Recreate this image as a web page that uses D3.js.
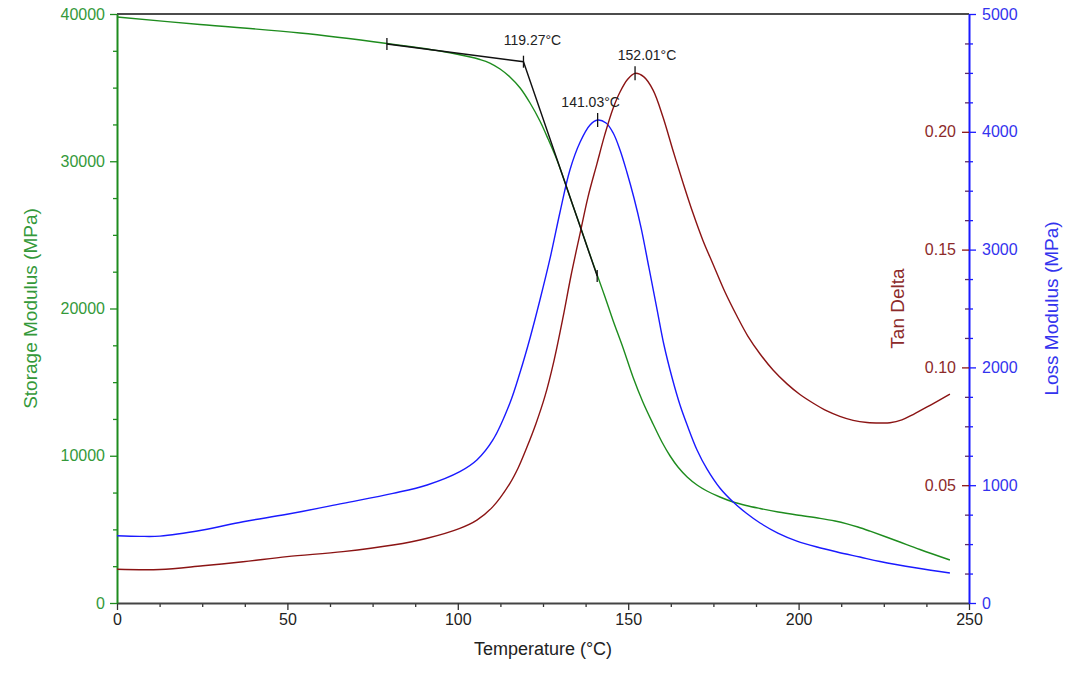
<!DOCTYPE html>
<html>
<head>
<meta charset="utf-8">
<script src="https://cdn.jsdelivr.net/npm/d3@7"></script>
<style>
  html, body { margin: 0; padding: 0; background: #fff; }
  svg { display: block; font-family: "Liberation Sans", Arial, sans-serif; }
</style>
</head>
<body>
<svg id="chart" width="1080" height="689"></svg>
<script>
// ---------------- DATA ----------------
const xTicks = [0, 50, 100, 150, 200, 250];
const storageTicks = [0, 10000, 20000, 30000, 40000];
const lossTicks = [0, 1000, 2000, 3000, 4000, 5000];
const tanTicks = [0.05, 0.10, 0.15, 0.20];
const tanTickLabels = ["0.05", "0.10", "0.15", "0.20"];

// Storage modulus (MPa) vs temperature (°C)
const storageTemp = [0, 24.35, 53.7, 79.2, 94.8, 103.0, 106.5, 109.4, 112.4, 115.3, 118.3, 121.2, 124.1, 126.5, 129.1, 131.5, 133.5, 135.9, 138.2, 140.8, 143.2, 145.5, 148.5, 151.4, 154.3, 157.3, 159.9, 162.3, 164.6, 167.3, 170.2, 173.1, 176.9, 180.8, 184.6, 188.7, 194.0, 199.5, 206.3, 210.7, 214.2, 217.4, 221.0, 228.9, 235.6, 244.4];
const storageValues = [39795, 39286, 38709, 37996, 37486, 37113, 36909, 36671, 36264, 35721, 34974, 33955, 32733, 31510, 30085, 28522, 27164, 25602, 24040, 22342, 20780, 19219, 17317, 15348, 13650, 12156, 10934, 9983, 9236, 8557, 8013, 7606, 7198, 6859, 6621, 6417, 6180, 5976, 5750, 5569, 5378, 5161, 4876, 4210, 3633, 2920];

// Loss modulus (MPa)
const lossTemp = [0, 6.7, 12.6, 25.2, 37.0, 49.9, 66.3, 81.0, 91.0, 100.6, 105.6, 110.3, 115.3, 118.3, 121.2, 124.1, 127.1, 130.0, 132.9, 135.9, 138.8, 141.03, 143.5, 145.6, 147.6, 149.6, 151.7, 153.8, 156.1, 158.5, 160.5, 162.9, 165.2, 167.3, 170.2, 173.1, 176.9, 180.8, 184.6, 188.7, 193.9, 199.5, 205.4, 211.3, 218.0, 223.9, 234.7, 244.4];
const lossValues = [571, 566, 568, 620, 690, 753, 846, 931, 1002, 1115, 1214, 1384, 1698, 1961, 2250, 2572, 2929, 3319, 3676, 3913, 4058, 4100, 4075, 3990, 3846, 3659, 3438, 3183, 2844, 2487, 2190, 1910, 1681, 1511, 1299, 1138, 976, 857, 764, 679, 594, 526, 475, 433, 390, 352, 297, 255];

// Tan delta
const tanTemp = [0, 12.6, 25.2, 37.0, 49.9, 66.3, 81.0, 91.0, 100.6, 105.6, 110.3, 115.3, 117.7, 120.3, 122.9, 125.6, 128.2, 130.9, 133.2, 135.9, 138.2, 140.8, 143.2, 145.5, 147.6, 149.9, 152.01, 154.6, 157.3, 160.2, 163.1, 166.1, 169.0, 171.9, 174.9, 178.4, 181.9, 185.1, 188.7, 192.5, 196.6, 200.4, 204.2, 208.3, 212.1, 216.0, 220.1, 223.9, 226.8, 230.3, 233.6, 237.7, 244.4];
const tanValues = [0.0143, 0.0142, 0.0158, 0.0175, 0.0197, 0.0218, 0.0246, 0.0275, 0.0317, 0.0352, 0.0409, 0.0508, 0.0573, 0.0662, 0.0760, 0.0879, 0.1027, 0.1214, 0.1388, 0.1570, 0.1723, 0.1863, 0.1991, 0.2097, 0.2169, 0.2224, 0.2248, 0.2233, 0.2177, 0.2063, 0.1923, 0.1783, 0.1655, 0.1540, 0.1438, 0.1320, 0.1218, 0.1133, 0.1057, 0.0989, 0.0930, 0.0885, 0.0849, 0.0815, 0.0792, 0.0775, 0.0766, 0.0764, 0.0765, 0.0777, 0.0800, 0.0832, 0.0887];

// Onset construction (storage modulus tangents)
const onsetTemp = [79.2, 119.27, 140.9];
const onsetStorage = [37960, 36760, 22200];
const onsetLabel = "119.27°C";
// Peaks
const lossPeak = { t: 141.03, v: 4100, label: "141.03°C" };
const tanPeak = { t: 152.01, v: 0.2248, label: "152.01°C" };

// ---------------- LAYOUT ----------------
const L = 117, R = 969, T = 14, B = 603;
const GREEN = "#1e8c1e", GREEN_TXT = "#34993a";
const BLUE = "#1a1aff", BLUE_TXT = "#3333ee";
const RED = "#8b1414", RED_TXT = "#8c2a2a";
const GRAY = "#333";

const svg = d3.select("#chart");
const x = d3.scaleLinear().domain([0, 250]).range([L, R]);
const yS = d3.scaleLinear().domain([0, 40000]).range([B, T]);
const yL = d3.scaleLinear().domain([0, 5000]).range([B, T]);
const yT = d3.scaleLinear().domain([0, 0.25]).range([B, T]);

// top border
svg.append("line").attr("x1", L).attr("x2", R).attr("y1", T).attr("y2", T)
  .attr("stroke", "#111").attr("stroke-width", 1.5);

function styleAxis(g, color, txtColor) {
  g.select(".domain").attr("stroke", color).attr("stroke-width", 2);
  g.selectAll(".tick line").attr("stroke", color).attr("stroke-width", 1.3);
  g.selectAll(".tick text").attr("fill", txtColor).attr("font-size", 16)
    .attr("font-family", "Liberation Sans, Arial, sans-serif");
}

// X axis minor ticks
const xMinor = d3.range(0, 250.01, 12.5).filter(v => v % 50 !== 0);
svg.append("g").attr("transform", `translate(0,${B})`)
  .call(d3.axisBottom(x).tickValues(xMinor).tickSize(4).tickFormat(""))
  .call(g => { g.select(".domain").remove(); g.selectAll(".tick line").attr("stroke", GRAY).attr("stroke-width", 1.3); });
const gx = svg.append("g").attr("transform", `translate(0,${B})`)
  .call(d3.axisBottom(x).tickValues(xTicks).tickSize(7).tickSizeOuter(0).tickPadding(4).tickFormat(d3.format("d")));
styleAxis(gx, GRAY, "#222");
gx.select(".domain").attr("stroke", "#444");

// Left axis (storage)
const sMinor = d3.range(0, 40001, 2500).filter(v => v % 10000 !== 0);
svg.append("g").attr("transform", `translate(${L},0)`)
  .call(d3.axisLeft(yS).tickValues(sMinor).tickSize(4).tickFormat(""))
  .call(g => { g.select(".domain").remove(); g.selectAll(".tick line").attr("stroke", GREEN).attr("stroke-width", 1.3); });
const gs = svg.append("g").attr("transform", `translate(${L},0)`)
  .call(d3.axisLeft(yS).tickValues(storageTicks).tickSize(7).tickSizeOuter(0).tickPadding(5).tickFormat(d3.format("d")));
styleAxis(gs, GREEN, GREEN_TXT);

// Right axis (loss) – outward
const lMinor = d3.range(0, 5001, 250).filter(v => v % 1000 !== 0);
svg.append("g").attr("transform", `translate(${R},0)`)
  .call(d3.axisRight(yL).tickValues(lMinor).tickSize(4).tickFormat(""))
  .call(g => { g.select(".domain").remove(); g.selectAll(".tick line").attr("stroke", BLUE).attr("stroke-width", 1.3); });
const gl = svg.append("g").attr("transform", `translate(${R},0)`)
  .call(d3.axisRight(yL).tickValues(lossTicks).tickSize(7).tickSizeOuter(0).tickPadding(6).tickFormat(d3.format("d")));
styleAxis(gl, BLUE, BLUE_TXT);

// Tan delta axis – inward on the same line
const tMinor = d3.range(0, 0.2501, 0.0125).filter(v => Math.abs(v / 0.05 - Math.round(v / 0.05)) > 1e-6);
svg.append("g").attr("transform", `translate(${R},0)`)
  .call(d3.axisLeft(yT).tickValues(tMinor).tickSize(4).tickFormat(""))
  .call(g => { g.select(".domain").remove(); g.selectAll(".tick line").attr("stroke", "#5a2a6a").attr("stroke-width", 1.3); });
const gt = svg.append("g").attr("transform", `translate(${R},0)`)
  .call(d3.axisLeft(yT).tickValues(tanTicks).tickSize(7).tickPadding(6).tickFormat((d, i) => tanTickLabels[i]));
styleAxis(gt, RED, RED_TXT);
gt.select(".domain").remove();

// Axis titles
svg.append("text").attr("transform", `translate(37,${(T + B) / 2}) rotate(-90)`)
  .attr("text-anchor", "middle").attr("font-size", 19).attr("fill", GREEN_TXT)
  .text("Storage Modulus (MPa)");
svg.append("text").attr("transform", `translate(1058,${(T + B) / 2}) rotate(-90)`)
  .attr("text-anchor", "middle").attr("font-size", 19).attr("fill", BLUE_TXT)
  .text("Loss Modulus (MPa)");
svg.append("text").attr("transform", `translate(904,${(T + B) / 2}) rotate(-90)`)
  .attr("text-anchor", "middle").attr("font-size", 19).attr("fill", RED_TXT)
  .text("Tan Delta");
svg.append("text").attr("x", (L + R) / 2).attr("y", 655)
  .attr("text-anchor", "middle").attr("font-size", 18).attr("fill", "#222")
  .text("Temperature (°C)");

// Curves
const curve = d3.curveCatmullRom.alpha(0.5);
const lineS = d3.line().x((d, i) => x(storageTemp[i])).y(d => yS(d)).curve(curve);
const lineL = d3.line().x((d, i) => x(lossTemp[i])).y(d => yL(d)).curve(curve);
const lineT = d3.line().x((d, i) => x(tanTemp[i])).y(d => yT(d)).curve(curve);

svg.append("path").attr("d", lineS(storageValues)).attr("fill", "none").attr("stroke", GREEN).attr("stroke-width", 1.4);
svg.append("path").attr("d", lineL(lossValues)).attr("fill", "none").attr("stroke", BLUE).attr("stroke-width", 1.4);
svg.append("path").attr("d", lineT(tanValues)).attr("fill", "none").attr("stroke", RED).attr("stroke-width", 1.4);

// Onset construction
const onsetLine = d3.line().x((d, i) => x(onsetTemp[i])).y(d => yS(d));
svg.append("path").attr("d", onsetLine(onsetStorage)).attr("fill", "none").attr("stroke", "#111").attr("stroke-width", 1.4);
onsetTemp.forEach((t, i) => {
  svg.append("line").attr("x1", x(t)).attr("x2", x(t))
    .attr("y1", yS(onsetStorage[i]) - 6).attr("y2", yS(onsetStorage[i]) + 6)
    .attr("stroke", "#111").attr("stroke-width", 1.3);
});
svg.append("text").attr("x", x(onsetTemp[1]) + 9).attr("y", yS(onsetStorage[1]) - 17)
  .attr("text-anchor", "middle").attr("font-size", 14).attr("fill", "#222").text(onsetLabel);

// Peak markers
[[lossPeak, yL, -7], [tanPeak, yT, 12]].forEach(([p, sc, dx]) => {
  const px = x(p.t), py = sc(p.v);
  svg.append("line").attr("x1", px).attr("x2", px).attr("y1", py - 7).attr("y2", py + 7)
    .attr("stroke", "#111").attr("stroke-width", 1.3);
  svg.append("text").attr("x", px + dx).attr("y", py - 13)
    .attr("text-anchor", "middle").attr("font-size", 14).attr("fill", "#222").text(p.label);
});
</script>
</body>
</html>
